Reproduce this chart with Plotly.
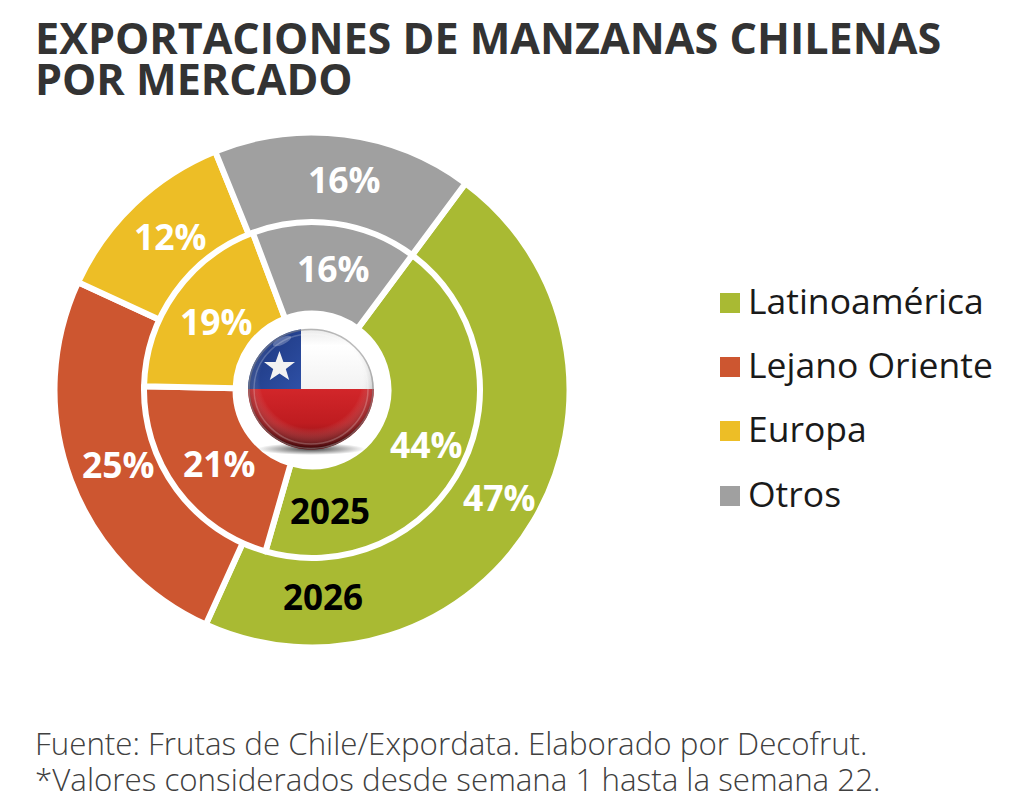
import base64
import plotly.graph_objects as go

W, H = 1024, 806

categories = ["Latinoamérica", "Lejano Oriente", "Europa", "Otros"]
values_2026 = [46.6, 25.1, 12.0, 16.3]
values_2025 = [44.3, 20.9, 18.9, 15.9]
colors = ["#A9BA33", "#CD5630", "#EDBE26", "#A0A0A0"]

title_lines = ["EXPORTACIONES DE MANZANAS CHILENAS", "POR MERCADO"]
footer_lines = ["Fuente: Frutas de Chile/Expordata. Elaborado por Decofrut.",
                "*Valores considerados desde semana 1 hasta la semana 22."]

cx, cy = 312, 390


def px_x(x):
    return x / W


def px_y(y):
    return 1 - y / H


def ring(values, radius, hole):
    return go.Pie(
        labels=categories, values=values, sort=False, direction="clockwise", rotation=36.6,
        hole=hole, domain=dict(x=[px_x(cx - radius), px_x(cx + radius)], y=[px_y(cy + radius), px_y(cy - radius)]),
        marker=dict(colors=colors, line=dict(color="white", width=6)),
        textinfo="none", showlegend=False, hoverinfo="label+percent",
    )


fig = go.Figure()
fig.add_trace(ring(values_2026, 257.5, 0.645))
fig.add_trace(ring(values_2025, 168, 0.455))

# flag button in the middle of the rings
flag_svg = """<svg xmlns="http://www.w3.org/2000/svg" viewBox="0 0 130 136">
<defs>
<clipPath id="c"><ellipse cx="65" cy="62" rx="63" ry="60.5"/></clipPath>
<radialGradient id="g" cx="50%" cy="42%" r="56%"><stop offset="0.72" stop-color="#fff" stop-opacity="0"/><stop offset="1" stop-color="#000" stop-opacity="0.45"/></radialGradient>
<linearGradient id="b" x1="0" y1="0" x2="1" y2="1"><stop offset="0" stop-color="#1B3378"/><stop offset="1" stop-color="#2E50A6"/></linearGradient>
<linearGradient id="r" x1="0" y1="0" x2="0" y2="1"><stop offset="0" stop-color="#D2262A"/><stop offset="0.55" stop-color="#BF1C20"/><stop offset="1" stop-color="#7E0E12"/></linearGradient>
<linearGradient id="w" x1="0" y1="0" x2="0" y2="1"><stop offset="0" stop-color="#E8E8E8"/><stop offset="0.3" stop-color="#FFFFFF"/><stop offset="1" stop-color="#F2F2F2"/></linearGradient>
<radialGradient id="s"><stop offset="0" stop-color="#222" stop-opacity="0.85"/><stop offset="1" stop-color="#222" stop-opacity="0"/></radialGradient>
</defs>
<ellipse cx="65" cy="122" rx="54" ry="6" fill="url(#s)"/>
<g clip-path="url(#c)">
<rect x="0" y="0" width="130" height="62" fill="url(#w)"/>
<rect x="0" y="0" width="55" height="62" fill="url(#b)"/>
<rect x="0" y="62" width="130" height="62" fill="url(#r)"/>
<polygon points="33.5,24 37.4,35 49,35 39.8,42 43.2,53 33.5,46.5 23.8,53 27.2,42 18,35 29.6,35" fill="#F2F2F2"/>
<ellipse cx="65" cy="62" rx="63" ry="60.5" fill="url(#g)"/>
<ellipse cx="65" cy="62" rx="57" ry="55" fill="none" stroke="#fff" stroke-opacity="0.22" stroke-width="1.5"/>
<ellipse cx="36" cy="14" rx="10" ry="3.5" fill="#fff" fill-opacity="0.25" transform="rotate(-25 36 14)"/>
</g>
<ellipse cx="65" cy="62" rx="62" ry="59.5" fill="none" stroke="#888" stroke-opacity="0.55" stroke-width="1.5"/>
</svg>"""
flag_src = "data:image/svg+xml;base64," + base64.b64encode(flag_svg.encode()).decode()
fig.add_layout_image(dict(source=flag_src, xref="paper", yref="paper", x=px_x(246), y=px_y(327),
                          sizex=130 / W, sizey=136 / H, sizing="stretch", xanchor="left", yanchor="top", layer="above"))


def add_text(text, x, y, size, color, weight=400, anchor="left"):
    fig.add_annotation(text=text, xref="paper", yref="paper", x=px_x(x), y=px_y(y), showarrow=False,
                       xanchor=anchor, yanchor="middle", align="left",
                       font=dict(family="Open Sans", size=size, color=color, weight=weight))


add_text(title_lines[0], 33, 37, 43.1, "#333333", 700)
add_text(title_lines[1], 33, 78, 43.1, "#333333", 700)

# percent labels sit where the original has them, plotly's own inside text jumps around at this size
xy_2026 = [(499.5, 497), (118, 464), (170, 236), (344.5, 178.5)]
xy_2025 = [(426.5, 444), (219.5, 463), (216, 320.5), (333.5, 268)]
for vals, spots in [(values_2026, xy_2026), (values_2025, xy_2025)]:
    for v, (x, y) in zip(vals, spots):
        add_text(f"{round(v)}%", x, y, 35.5, "white", 700, "center")

add_text("2025", 329.5, 510, 35, "black", 700, "center")
add_text("2026", 323, 596, 35, "black", 700, "center")

# legend
legend_y = [301, 365, 429, 494]
for name, col, y in zip(categories, colors, legend_y):
    fig.add_shape(type="rect", xref="paper", yref="paper", x0=px_x(720), x1=px_x(740), y0=px_y(y - 8), y1=px_y(y + 12),
                  fillcolor=col, line_width=0)
    add_text(name, 745.5, y - 1, 35.5, "#1a1a1a")

add_text(footer_lines[0], 33, 743, 31.3, "#404040", 300)
add_text(footer_lines[1], 33, 779, 31.3, "#404040", 300)

fig.update_layout(width=W, height=H, margin=dict(l=0, r=0, t=0, b=0), paper_bgcolor="white")
fig.write_html("out.html", config=dict(displayModeBar=False),
               post_script="document.body.style.margin='0';document.documentElement.style.overflow='hidden';")
